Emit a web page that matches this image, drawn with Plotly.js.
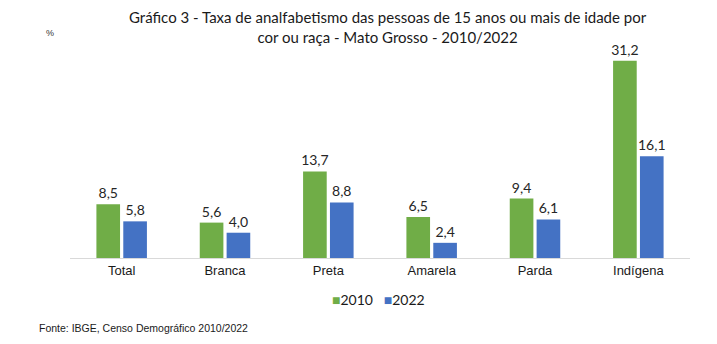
<!DOCTYPE html>
<html><head><meta charset="utf-8">
<script src="https://cdn.plot.ly/plotly-3.0.1.min.js"></script>
<style>html,body{margin:0;padding:0;background:#fff}#chart{width:717px;height:344px}</style>
</head><body><div id="chart"></div>
<script>
const categories = ["Total", "Branca", "Preta", "Amarela", "Parda", "Indígena"];
const values2010 = [8.5, 5.6, 13.7, 6.5, 9.4, 31.2];
const values2022 = [5.8, 4.0, 8.8, 2.4, 6.1, 16.1];
const seriesNames = ["2010", "2022"];
const colors = ["#70AD47", "#4472C4"];

const fmt = v => v.toFixed(1).replace(".", ",");
const labelFont = {family: "Lato, 'Open Sans', sans-serif", size: 14, color: "#262626"};

const traces = [
  {type: "bar", name: seriesNames[0], x: categories, y: values2010, marker: {color: colors[0]},
   text: values2010.map(fmt), textposition: "outside", constraintext: "none", textfont: labelFont, cliponaxis: false, hoverinfo: "none"},
  {type: "bar", name: seriesNames[1], x: categories, y: values2022, marker: {color: colors[1]},
   text: values2022.map(fmt), textposition: "outside", constraintext: "none", textfont: labelFont, cliponaxis: false, hoverinfo: "none"}
];

const legendText = seriesNames.map((n, i) => `<span style="color:${colors[i]}">■</span>${n}`).join("   ");

const layout = {
  width: 717, height: 344,
  margin: {l: 70, r: 27, t: 40, b: 86},
  paper_bgcolor: "#fff", plot_bgcolor: "#fff",
  barmode: "group", bargap: 0.48, bargroupgap: 0.12,
  xaxis: {showline: true, linecolor: "#d9d9d9", linewidth: 1, ticks: "", showgrid: false,
          tickfont: {family: "'Liberation Sans', Arial, sans-serif", size: 13, color: "#1a1a1a"}},
  yaxis: {range: [0, 34.5], visible: false, showgrid: false, zeroline: false},
  showlegend: false,
  annotations: [
    {text: "Gráfico 3 - Taxa de analfabetismo das pessoas de 15 anos ou mais de idade por<br>cor ou raça - Mato Grosso - 2010/2022",
     xref: "paper", yref: "paper", x: (388 - 70) / 620, y: (258 - 27) / 218, xanchor: "center", yanchor: "middle",
     showarrow: false, font: {family: "Lato, 'Open Sans', sans-serif", size: 15, color: "#1a1a1a"}},
    {text: "%", xref: "paper", yref: "paper", x: (50 - 70) / 620, y: (258 - 33) / 218, xanchor: "center", yanchor: "middle",
     showarrow: false, font: {family: "'Liberation Sans', Arial, sans-serif", size: 9, color: "#333"}},
    {text: legendText, xref: "paper", yref: "paper", x: (378 - 70) / 620, y: (258 - 299) / 218, xanchor: "center", yanchor: "middle",
     showarrow: false, font: {family: "Lato, 'Open Sans', sans-serif", size: 14, color: "#1a1a1a"}},
    {text: "Fonte: IBGE, Censo Demográfico 2010/2022", xref: "paper", yref: "paper", x: (37 - 70) / 620, y: (258 - 328) / 218,
     xanchor: "left", yanchor: "middle", showarrow: false,
     font: {family: "'Liberation Sans', Arial, sans-serif", size: 10.5, color: "#1a1a1a"}}
  ]
};

Plotly.newPlot("chart", traces, layout, {staticPlot: true, displayModeBar: false});
</script></body></html>
